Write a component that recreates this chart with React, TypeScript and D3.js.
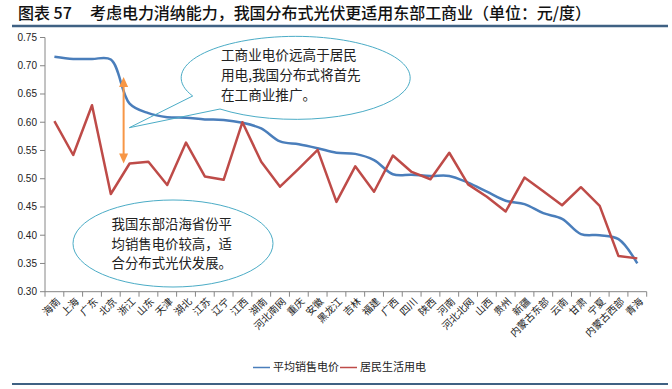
import React from 'react';
import * as d3 from 'd3';

const categories = ['海南','上海','广东','北京','浙江','山东','天津','湖北','江苏','辽宁','江西','湖南','河北南网','重庆','安徽','黑龙江','吉林','福建','广西','四川','陕西','河南','河北北网','山西','贵州','新疆','内蒙古东部','云南','甘肃','宁夏','内蒙古西部','青海'];
const avgPrice = [0.716,0.712,0.712,0.711,0.633,0.616,0.609,0.608,0.605,0.604,0.599,0.589,0.566,0.561,0.554,0.546,0.544,0.533,0.508,0.507,0.505,0.505,0.493,0.477,0.461,0.455,0.439,0.429,0.402,0.400,0.393,0.350];
const residential = [0.602,0.542,0.630,0.473,0.527,0.530,0.489,0.564,0.504,0.498,0.600,0.530,0.486,0.518,0.551,0.459,0.522,0.477,0.541,0.512,0.499,0.546,0.490,0.468,0.442,0.502,0.478,0.453,0.485,0.452,0.363,0.359];
const yTicks = [0.30,0.35,0.40,0.45,0.50,0.55,0.60,0.65,0.70,0.75];
const seriesNames = ['平均销售电价','居民生活用电'];
const titleLabel = '图表 57';
const title = '考虑电力消纳能力，我国分布式光伏更适用东部工商业（单位：元/度）';
const noteTop = ['工商业电价远高于居民','用电,我国分布式将首先','在工商业推广。'];
const noteBottom = ['我国东部沿海省份平','均销售电价较高，适','合分布式光伏发展。'];

const W = 672, H = 389;
const left = 45, right = 646.7, top = 37.5, bottom = 291.7;
const CJK = '"Noto Sans CJK SC", sans-serif';
const BLUE = '#4A7EBB', RED = '#BE4B48', ORANGE = '#F79646', TEAL = '#4BACC6', AX = '#868686';

export default function App() {
  const x = d3.scaleBand<string>().domain(categories).range([left, right]).paddingInner(0).paddingOuter(0);
  const cx = (c: string) => (x(c) as number) + x.bandwidth() / 2;
  const y = d3.scaleLinear().domain([0.30, 0.75]).range([bottom, top]);

  const blueLine = d3.line<number>().x((_, i) => cx(categories[i])).y(d => y(d)).curve(d3.curveCatmullRom.alpha(0.5));
  const redLine = d3.line<number>().x((_, i) => cx(categories[i])).y(d => y(d));

  const boundaries = d3.range(categories.length + 1).map(i => left + i * x.bandwidth());

  // callout geometry
  const erx = 114.5, ery = 41.5;
  const A = [192.7, 96], B = [220, 109], tip = [129.3, 127.7];
  const calloutPath = `M${A[0]},${A[1]} L${tip[0]},${tip[1]} L${B[0]},${B[1]} A${erx},${ery} 0 1 0 ${A[0]},${A[1]}`;

  const arrowX = cx('浙江') - 6;
  const aTop = y(0.68), aBot = y(0.527);

  return (
    <svg width={W} height={H} style={{ position: 'absolute', left: 0, top: 0, background: '#fff' }}>
      <rect width={W} height={H} fill="#fff" />
      <text x={18} y={19} fontFamily={CJK} fontSize={16} fontWeight={500} fill="#111">{titleLabel}</text>
      <text x={90} y={19} fontFamily={CJK} fontSize={16} fontWeight={500} fill="#111" textLength={501} lengthAdjust="spacing">{title}</text>
      <line x1={12} x2={668} y1={26} y2={26} stroke="#3F6183" strokeWidth={2.5} />

      {/* y axis */}
      <line x1={left} x2={left} y1={top} y2={bottom} stroke={AX} strokeWidth={1} />
      {yTicks.map(t => (
        <g key={t}>
          <line x1={left - 5} x2={left} y1={y(t)} y2={y(t)} stroke={AX} />
          <text x={37} y={y(t)} dy="0.35em" textAnchor="end" fontFamily="'Liberation Sans', Arial, sans-serif" fontSize={10} fill="#222">{t.toFixed(2)}</text>
        </g>
      ))}
      {/* x axis */}
      <line x1={left} x2={right} y1={bottom} y2={bottom} stroke={AX} strokeWidth={1} />
      {boundaries.map((b, i) => (
        <line key={i} x1={b} x2={b} y1={bottom} y2={bottom + 5} stroke={AX} />
      ))}
      {categories.map(c => (
        <text key={c} transform={`translate(${cx(c) + 4},${bottom + 8}) rotate(-45)`} textAnchor="end" dy="0.35em" fontFamily={CJK} fontSize={10} fill="#222">{c}</text>
      ))}

      <path d={blueLine(avgPrice) || ''} fill="none" stroke={BLUE} strokeWidth={2.5} strokeLinejoin="round" />
      <path d={redLine(residential) || ''} fill="none" stroke={RED} strokeWidth={2.5} strokeLinejoin="round" />

      {/* orange double arrow */}
      <line x1={arrowX} x2={arrowX} y1={aTop + 9} y2={aBot - 9} stroke={ORANGE} strokeWidth={2} />
      <path d={`M${arrowX},${aTop} L${arrowX - 4.5},${aTop + 10} L${arrowX + 4.5},${aTop + 10} Z`} fill={ORANGE} />
      <path d={`M${arrowX},${aBot} L${arrowX - 4.5},${aBot - 10} L${arrowX + 4.5},${aBot - 10} Z`} fill={ORANGE} />

      {/* callouts */}
      <path d={calloutPath} fill="none" stroke={TEAL} strokeWidth={1} />
      {noteTop.map((s, i) => (
        <text key={i} x={221} y={60 + i * 19.8} fontFamily={CJK} fontSize={13.6} fill="#222">{s}</text>
      ))}
      <ellipse cx={173} cy={243.5} rx={100} ry={43.5} fill="#fff" stroke={TEAL} strokeWidth={1} />
      {noteBottom.map((s, i) => (
        <text key={i} x={111.5} y={229 + i * 19.6} fontFamily={CJK} fontSize={13.4} fill="#222">{s}</text>
      ))}

      {/* legend */}
      <line x1={253} x2={270} y1={367.5} y2={367.5} stroke={BLUE} strokeWidth={1.5} />
      <text x={273} y={367.5} dy="0.35em" fontFamily={CJK} fontSize={11} fill="#222">{seriesNames[0]}</text>
      <line x1={340} x2={357} y1={367.5} y2={367.5} stroke={RED} strokeWidth={1.5} />
      <text x={360} y={367.5} dy="0.35em" fontFamily={CJK} fontSize={11} fill="#222">{seriesNames[1]}</text>

      <line x1={12} x2={668} y1={384} y2={384} stroke="#3F6183" strokeWidth={2} />
    </svg>
  );
}
